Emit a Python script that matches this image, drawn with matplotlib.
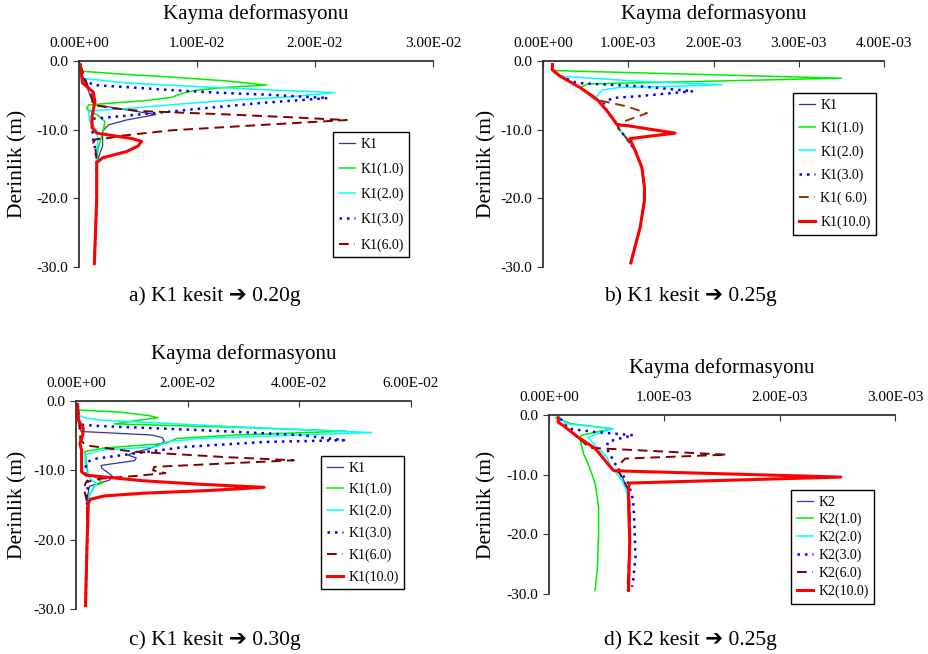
import matplotlib
matplotlib.use('Agg')
import matplotlib.pyplot as plt

plt.rcParams['font.family'] = ['Liberation Serif', 'DejaVu Sans']

# ---------------- a) K1 kesit -> 0.20g ----------------
a_k1_d = [-0.5, -1.7, -3.7, -5.7, -6.4, -7.1, -7.8, -8.6, -9.3, -10.2, -12.4, -13.3, -14.8, -20, -29.5]
a_k1_x = [0.0001, 0.0002, 0.00065, 0.0011, 0.0015, 0.004, 0.0065, 0.004, 0.0025, 0.002, 0.002, 0.0018, 0.0015, 0.0015, 0.0013]
a_k1_10_d = [-0.5, -1.5, -1.9, -2.3, -2.9, -3.5, -3.9, -4.3, -4.7, -5.3, -5.8, -6.1, -6.4, -7.0, -7.8, -8.8, -9.7,
             -11.7, -12.9, -14.5, -20, -29.5]
a_k1_10_x = [0.0001, 0.0003, 0.0035, 0.0075, 0.0125, 0.0159, 0.012, 0.0098, 0.0088, 0.0078, 0.0055, 0.003, 0.0008,
             0.00065, 0.0015, 0.0022, 0.0021, 0.0018, 0.0016, 0.0015, 0.0015, 0.0013]
a_k1_20_d = [-0.5, -2.5, -3.2, -3.7, -4.2, -4.6, -5.2, -5.7, -6.2, -6.8, -7.2, -7.4, -8.8, -10.0, -11.4, -13.3, -14.8,
             -20, -29.5]
a_k1_20_x = [0.0001, 0.0002, 0.004, 0.0097, 0.016, 0.0217, 0.018, 0.013, 0.009, 0.005, 0.0015, 0.0008, 0.0009,
             0.0015, 0.0016, 0.0015, 0.0015, 0.0015, 0.0013]
a_k1_30_d = [-0.5, -2.5, -3.5, -3.8, -4.2, -4.6, -4.9, -5.4, -6.1, -6.9, -7.4, -8.0, -8.4, -9.3, -11.4, -13.0, -14.8,
             -20, -29.5]
a_k1_30_x = [0.0001, 0.0003, 0.0012, 0.004, 0.0075, 0.0115, 0.0159, 0.0211, 0.0155, 0.0105, 0.0075, 0.0038, 0.0012,
             0.0011, 0.0012, 0.0014, 0.0015, 0.0015, 0.0013]
a_k1_60_d = [-0.5, -3.5, -4.6, -6.4, -6.9, -7.3, -7.8, -8.2, -8.6, -9.3, -10.1, -10.9, -11.2, -11.4, -11.9, -12.9,
             -14.8, -20, -29.5]
a_k1_60_x = [0.0001, 0.0007, 0.001, 0.0012, 0.003, 0.0054, 0.0128, 0.018, 0.0227, 0.0156, 0.0078, 0.0035, 0.0026,
             0.0014, 0.0012, 0.0014, 0.0015, 0.0015, 0.0013]
a_k1_100_d = [-0.5, -3.2, -4.5, -5.9, -8.1, -9.7, -10.5, -10.9, -11.3, -11.7, -12.4, -13.2, -14.1, -14.8, -17.2, -20,
              -25, -29.5]
a_k1_100_x = [0.0001, 0.0003, 0.0012, 0.00135, 0.0011, 0.0011, 0.0015, 0.003, 0.0045, 0.0053, 0.005, 0.004, 0.002,
              0.0015, 0.0015, 0.0015, 0.0014, 0.0013]

# ---------------- b) K1 kesit -> 0.25g ----------------
b_k1_d = [-0.5, -1.3, -2.2, -3.9, -5.8, -7.4, -8.6, -9.3, -9.9, -11.1, -13.0, -15.5, -18.4, -20.3, -24.2, -29.4]
b_k1_x = [0.00011, 0.00011, 0.0002, 0.00044, 0.00065, 0.00076, 0.00083, 0.00087, 0.00089, 0.00097, 0.00108,
          0.00116, 0.00119, 0.00119, 0.00114, 0.00103]
b_k1_10_d = [-0.5, -1.3, -1.4, -2.5, -3.35, -3.9, -5.8, -7.4, -8.6, -9.3, -9.9, -11.1, -13.0, -15.5, -18.4, -20.3,
             -24.2, -29.4]
b_k1_10_x = [0.00011, 0.00011, 0.00015, 0.0035, 0.00052, 0.00044, 0.00065, 0.00076, 0.00083, 0.00087, 0.00089,
             0.00097, 0.00108, 0.00116, 0.00119, 0.00119, 0.00114, 0.00103]
b_k1_20_d = [-0.5, -1.3, -2.2, -2.96, -3.45, -3.7, -3.85, -4.2, -5.1, -5.8, -7.4, -8.6, -9.3, -9.9, -11.1, -13.0,
             -15.5, -18.4, -20.3, -24.2, -29.4]
b_k1_20_x = [0.00011, 0.00011, 0.00018, 0.00114, 0.0021, 0.0015, 0.0009, 0.0007, 0.00063, 0.00065, 0.00076, 0.00083,
             0.00087, 0.00089, 0.00097, 0.00108, 0.00116, 0.00119, 0.00119, 0.00114, 0.00103]
b_k1_30_d = [-0.5, -1.3, -2.2, -3.2, -3.7, -4.4, -5.1, -5.4, -6.3, -7.4, -8.6, -9.3, -9.9, -11.1, -13.0, -15.5,
             -18.4, -20.3, -24.2, -29.4]
b_k1_30_x = [0.00011, 0.00011, 0.0002, 0.0004, 0.00115, 0.00176, 0.00114, 0.00081, 0.0007, 0.00076, 0.00083,
             0.00087, 0.00089, 0.00097, 0.00108, 0.00116, 0.00119, 0.00119, 0.00114, 0.00103]
b_k1_60_d = [-0.5, -1.3, -2.2, -3.9, -5.8, -6.6, -7.6, -8.8, -9.3, -9.9, -11.1, -13.0, -15.5, -18.4, -20.3, -24.2,
             -29.4]
b_k1_60_x = [0.00011, 0.00011, 0.0002, 0.00044, 0.00068, 0.00098, 0.00122, 0.00095, 0.00087, 0.00089, 0.00097,
             0.00108, 0.00116, 0.00119, 0.00119, 0.00114, 0.00103]
b_k1_100_d = [-0.5, -1.3, -2.2, -3.9, -5.8, -7.4, -8.6, -9.3, -9.4, -10.5, -11.3, -12.2, -13.0, -15.5, -18.4, -20.3,
              -24.2, -29.4]
b_k1_100_x = [0.00011, 0.00011, 0.0002, 0.00044, 0.00065, 0.00076, 0.00083, 0.00087, 0.00098, 0.00155, 0.00102,
              0.00105, 0.00108, 0.00116, 0.00119, 0.00119, 0.00114, 0.00103]

# ---------------- c) K1 kesit -> 0.30g ----------------
c_k1_d = [-0.5, -2.7, -4.4, -4.6, -4.9, -5.3, -5.9, -6.3, -6.9, -7.4, -7.8, -8.2, -8.6, -9.0, -9.3, -9.7, -10.2,
          -10.9, -11.4, -11.9, -12.3, -13.6, -14.8, -20, -29.5]
c_k1_x = [0.0003, 0.0006, 0.0009, 0.006, 0.0135, 0.0155, 0.0158, 0.0148, 0.013, 0.0105, 0.0093, 0.0108, 0.0105,
          0.007, 0.0045, 0.0046, 0.0055, 0.0066, 0.006, 0.004, 0.0024, 0.0021, 0.002, 0.002, 0.0017]
c_k1_10_d = [-0.5, -1.3, -1.6, -2.1, -2.4, -2.8, -3.3, -3.8, -4.35, -4.9, -5.4, -6.1, -6.8, -7.3, -8.3, -10.5, -11.0,
             -11.8, -12.2, -13.6, -14.6, -20, -29.5]
c_k1_10_x = [0.0003, 0.0004, 0.0078, 0.013, 0.0147, 0.011, 0.0069, 0.0287, 0.0484, 0.0287, 0.018, 0.0162, 0.0048,
             0.0016, 0.0018, 0.0021, 0.0036, 0.0048, 0.0033, 0.0024, 0.0021, 0.002, 0.0017]
c_k1_20_d = [-0.5, -2.0, -2.4, -2.75, -3.7, -4.55, -4.9, -5.4, -5.9, -6.6, -7.1, -7.8, -9.5, -11.2, -11.9, -13.4,
             -14.8, -20, -29.5]
c_k1_20_x = [0.0003, 0.0003, 0.0015, 0.0043, 0.028, 0.053, 0.040, 0.022, 0.0162, 0.0144, 0.0043, 0.0016, 0.0017,
             0.0025, 0.0037, 0.0025, 0.0021, 0.002, 0.0017]
c_k1_30_d = [-0.5, -3.4, -3.6, -4.2, -4.9, -5.65, -5.9, -6.6, -7.6, -8.3, -8.8, -10.2, -11.9, -13.9, -14.8, -20,
             -29.5]
c_k1_30_x = [0.0003, 0.0006, 0.004, 0.0222, 0.040, 0.048, 0.034, 0.0198, 0.0102, 0.0037, 0.0019, 0.0016, 0.0022,
             0.0019, 0.002, 0.002, 0.0017]
c_k1_60_d = [-0.5, -5.65, -6.4, -7.3, -8.1, -8.55, -9.0, -9.5, -10.0, -10.4, -10.8, -11.2, -11.7, -12.6, -14.3,
             -14.8, -20, -29.5]
c_k1_60_x = [0.0003, 0.0008, 0.0018, 0.0102, 0.027, 0.039, 0.027, 0.014, 0.0138, 0.016, 0.0108, 0.0045, 0.0018,
             0.0014, 0.0019, 0.002, 0.002, 0.0017]
c_k1_100_d = [-0.5, -2.75, -4.0, -4.9, -6.1, -7.1, -10.2, -10.7, -11.5, -12.0, -12.45, -12.9, -13.3, -13.7, -14.2,
              -14.8, -20, -29.5]
c_k1_100_x = [0.0003, 0.0004, 0.0013, 0.0012, 0.0007, 0.001, 0.001, 0.0018, 0.012, 0.022, 0.0337, 0.024, 0.012,
              0.005, 0.0025, 0.0022, 0.002, 0.0017]

# ---------------- d) K2 kesit -> 0.25g ----------------
d_k2_d = [-0.45, -1.2, -2.0, -3.7, -5.6, -7.0, -8.2, -9.3, -9.8, -11.5, -12.6, -15.4, -21, -29.4]
d_k2_x = [0.00008, 0.00008, 0.00014, 0.00025, 0.0004, 0.00046, 0.00051, 0.00056, 0.00062, 0.00066, 0.00069,
          0.0007, 0.0007, 0.00068]
d_k2_10_d = [-0.45, -1.45, -2.3, -2.5, -3.4, -4.2, -6.5, -8.7, -11.5, -15.4, -19.9, -25.5, -29.4]
d_k2_10_x = [0.00006, 0.00019, 0.00054, 0.0005, 0.00028, 0.00027, 0.0003, 0.00035, 0.0004, 0.00043, 0.00043,
             0.00042, 0.0004]
d_k2_20_d = [-0.45, -1.45, -2.3, -2.6, -3.7, -4.5, -5.4, -7.0, -8.7, -10.9, -12.6, -15.4, -21, -29.4]
d_k2_20_x = [0.0001, 0.00014, 0.00056, 0.0005, 0.00034, 0.00037, 0.00042, 0.0005, 0.00054, 0.00063, 0.00067,
             0.00069, 0.0007, 0.00069]
d_k2_30_d = [-0.6, -1.45, -2.3, -2.85, -3.4, -4.0, -4.5, -5.6, -7.0, -8.4, -9.8, -11.5, -14.3, -18.2, -23.8, -27.7,
             -28.8]
d_k2_30_x = [0.0001, 0.00013, 0.00017, 0.0004, 0.00073, 0.0006, 0.00051, 0.0005, 0.00054, 0.00058, 0.00063,
             0.00069, 0.00073, 0.00074, 0.00075, 0.00073, 0.00072]
d_k2_60_d = [-0.45, -1.2, -2.0, -3.7, -5.5, -6.65, -7.3, -7.9, -9.3, -11.5, -12.6, -15.4, -21, -29.4]
d_k2_60_x = [0.00008, 0.00008, 0.00014, 0.00025, 0.00035, 0.00154, 0.00066, 0.00063, 0.0006, 0.00066, 0.00069,
             0.0007, 0.0007, 0.00068]
d_k2_100_d = [-0.45, -1.2, -2.0, -3.7, -5.6, -7.0, -8.2, -9.3, -9.4, -10.4, -11.4, -12.1, -15.4, -21, -29.4]
d_k2_100_x = [0.00008, 0.00008, 0.00014, 0.00025, 0.0004, 0.00046, 0.00051, 0.00056, 0.00066, 0.00253, 0.0007,
              0.00069, 0.00069, 0.0007, 0.00069]

depth_ticks = [0, -10, -20, -30]
depth_labels = ['0.0', '-10.0', '-20.0', '-30.0']

a_ticks = [0, 0.01, 0.02, 0.03]
a_labels = ['0.00E+00', '1.00E-02', '2.00E-02', '3.00E-02']
b_ticks = [0, 0.001, 0.002, 0.003, 0.004]
b_labels = ['0.00E+00', '1.00E-03', '2.00E-03', '3.00E-03', '4.00E-03']
c_ticks = [0, 0.02, 0.04, 0.06]
c_labels = ['0.00E+00', '2.00E-02', '4.00E-02', '6.00E-02']
d_ticks = [0, 0.001, 0.002, 0.003]
d_labels = ['0.00E+00', '1.00E-03', '2.00E-03', '3.00E-03']

# line styles, one per series slot
styles = [
    dict(color='#333399', lw=0.9, ls='-'),
    dict(color='#00ee00', lw=1.1, ls='-'),
    dict(color='#00ffff', lw=1.1, ls='-'),
    dict(color='#0000ff', lw=1.8, ls=(0, (1, 2))),
    dict(color='#800000', lw=1.4, ls=(0, (5, 3))),
    dict(color='#ff0000', lw=2.2, ls='-'),
]

fig = plt.figure(figsize=(9.29, 6.54), dpi=100)
W, H = 929.0, 654.0


def make_panel(box, series, names, ticks, labels, xmax, leg_pos, leg_space, caption, cap_pos, ylab_x, colors=None):
    x0, y0, x1, y1 = box  # pixel box, y from top
    ax = fig.add_axes([x0 / W, 1 - y1 / H, (x1 - x0) / W, (y1 - y0) / H])
    for i, (xs, ds) in enumerate(series):
        st = dict(styles[i])
        if colors and i in colors:
            st['color'] = colors[i]
        lab = names[i] if i < len(names) else '_nolegend_'
        ax.plot(xs, ds, label=lab, **st)
    ax.set_xlim(0, xmax)
    ax.set_ylim(-30, 0)
    ax.xaxis.tick_top()
    ax.set_xticks(ticks)
    ax.set_xticklabels(labels, fontsize=11)
    ax.set_yticks(depth_ticks)
    ax.set_yticklabels(depth_labels, fontsize=11)
    ax.tick_params(axis='x', direction='in', length=4, pad=8, color='#333333')
    ax.tick_params(axis='y', direction='out', length=4, pad=4, color='#333333')
    for s in ['right', 'bottom']:
        ax.spines[s].set_visible(False)
    for s in ['left', 'top']:
        ax.spines[s].set_linewidth(1.3)
        ax.spines[s].set_color('#333333')
    fig.text((x0 + x1) / 2 / W, 1 - (y0 - 47) / H, 'Kayma deformasyonu', ha='center', va='center', fontsize=15)
    fig.text(ylab_x / W, 1 - (y0 + y1) / 2 / H, 'Derinlik (m)', rotation=90, ha='center', va='center',
             fontsize=15.5)
    fig.text(cap_pos[0] / W, 1 - cap_pos[1] / H, caption, ha='center', va='center', fontsize=15.5)
    leg = ax.legend(loc='upper left', bbox_to_anchor=(leg_pos[0] / W, 1 - leg_pos[1] / H),
                    bbox_transform=fig.transFigure, fontsize=10, frameon=True, fancybox=False,
                    edgecolor='black', framealpha=1, handlelength=1.2, handletextpad=0.35,
                    borderpad=0.4, labelspacing=leg_space, borderaxespad=0)
    leg.get_frame().set_linewidth(1.0)
    return ax


make_panel((79, 61, 433, 267),
           [(a_k1_x, a_k1_d), (a_k1_10_x, a_k1_10_d), (a_k1_20_x, a_k1_20_d), (a_k1_30_x, a_k1_30_d),
            (a_k1_60_x, a_k1_60_d), (a_k1_100_x, a_k1_100_d)],
           ['K1', 'K1(1.0)', 'K1(2.0)', 'K1(3.0)', 'K1(6.0)'],
           a_ticks, a_labels, 0.03, (333, 132), 0.85, 'a) K1 kesit \u2794 0.20g', (215, 296), 18)

make_panel((543, 61, 884, 267),
           [(b_k1_x, b_k1_d), (b_k1_10_x, b_k1_10_d), (b_k1_20_x, b_k1_20_d), (b_k1_30_x, b_k1_30_d),
            (b_k1_60_x, b_k1_60_d), (b_k1_100_x, b_k1_100_d)],
           ['K1', 'K1(1.0)', 'K1(2.0)', 'K1(3.0)', 'K1( 6.0)', 'K1(10.0)'],
           b_ticks, b_labels, 0.004, (793, 93), 0.72, 'b) K1 kesit \u2794 0.25g', (690, 296), 487,
           colors={4: '#993300'})

make_panel((76, 401, 411, 609),
           [(c_k1_x, c_k1_d), (c_k1_10_x, c_k1_10_d), (c_k1_20_x, c_k1_20_d), (c_k1_30_x, c_k1_30_d),
            (c_k1_60_x, c_k1_60_d), (c_k1_100_x, c_k1_100_d)],
           ['K1', 'K1(1.0)', 'K1(2.0)', 'K1(3.0)', 'K1(6.0)', 'K1(10.0)'],
           c_ticks, c_labels, 0.06, (321, 456), 0.6, 'c) K1 kesit \u2794 0.30g', (215, 640), 18)

make_panel((549, 415, 895, 594),
           [(d_k2_x, d_k2_d), (d_k2_10_x, d_k2_10_d), (d_k2_20_x, d_k2_20_d), (d_k2_30_x, d_k2_30_d),
            (d_k2_60_x, d_k2_60_d), (d_k2_100_x, d_k2_100_d)],
           ['K2', 'K2(1.0)', 'K2(2.0)', 'K2(3.0)', 'K2(6.0)', 'K2(10.0)'],
           d_ticks, d_labels, 0.003, (791, 490), 0.32, 'd) K2 kesit \u2794 0.25g', (690, 640), 487)

fig.savefig('out.png', dpi=100)
